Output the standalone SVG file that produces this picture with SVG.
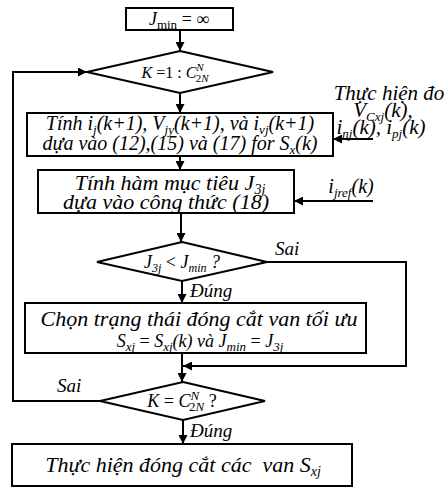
<svg xmlns="http://www.w3.org/2000/svg" width="448" height="488" viewBox="0 0 448 488">
<defs>
<marker id="ah" viewBox="0 0 10 10" refX="10" refY="5" markerWidth="9" markerHeight="9" markerUnits="userSpaceOnUse" orient="auto">
<path d="M0,0 L10,5 L0,10 z" fill="#000"/>
</marker>
<style>
.box{fill:#fff;stroke:#000;stroke-width:2}
.ar{fill:none;stroke:#000;stroke-width:2;marker-end:url(#ah)}
text{font-family:"Liberation Serif","Times New Roman","DejaVu Serif",serif;font-style:italic;fill:#000}
.c{text-anchor:middle}
.up{font-style:normal}
</style>
</defs>
<rect width="448" height="488" fill="#fff"/>
<g id="connectors">
<line class="ar" x1="180" y1="30" x2="180" y2="51"/>
<line class="ar" x1="180" y1="93" x2="180" y2="113"/>
<line class="ar" x1="180" y1="156" x2="180" y2="170"/>
<line class="ar" x1="181" y1="213" x2="181" y2="242"/>
<line class="ar" x1="182" y1="281" x2="182" y2="303"/>
<line class="ar" x1="182" y1="353" x2="182" y2="382"/>
<line class="ar" x1="183" y1="420" x2="183" y2="444"/>
<polyline class="ar" points="100,401 13,401 13,72 87,72"/>
<polyline class="ar" points="267,262 406,262 406,366 183,366"/>
<line class="ar" x1="373" y1="139" x2="333" y2="139"/>
<line class="ar" x1="373" y1="201" x2="294" y2="201"/>
<text x="275" y="255" font-size="19">Sai</text>
<text x="190" y="297" font-size="19">Đúng</text>
<text x="57" y="392" font-size="19">Sai</text>
<text x="190" y="437" font-size="19">Đúng</text>
</g>
<g id="start">
<rect class="box" x="126" y="8" width="107" height="22"/>
<text class="c" x="179" y="25" font-size="18">J<tspan class="up" font-size="13" baseline-shift="-4">min</tspan><tspan class="up"> = ∞</tspan></text>
</g>
<g id="loop">
<polygon class="box" points="180,51 273,72 180,93 87,72"/>
<text class="c" x="175" y="78" font-size="16"><tspan>K</tspan><tspan class="up"> =1 : </tspan><tspan>C</tspan><tspan font-size="11" baseline-shift="7">N</tspan><tspan class="up" font-size="11" dx="-8" baseline-shift="-4">2</tspan><tspan font-size="11" baseline-shift="-4">N</tspan></text>
</g>
<g id="calc">
<rect class="box" x="27" y="113" width="306" height="43"/>
<text class="c" x="180" y="130" font-size="20">Tính i<tspan font-size="13" baseline-shift="-4">j</tspan>(k+1), V<tspan font-size="13" baseline-shift="-4">jy</tspan>(k+1), và i<tspan font-size="13" baseline-shift="-4">vj</tspan>(k+1)</text>
<text class="c" x="180" y="150" font-size="20">dựa vào (12),(15) và (17) for S<tspan font-size="13" baseline-shift="-4">x</tspan>(k)</text>
</g>
<g id="cost">
<rect class="box" x="38" y="170" width="256" height="43"/>
<text class="c" x="170" y="190" font-size="22">Tính hàm mục tiêu J<tspan font-size="14" baseline-shift="-4">3j</tspan></text>
<text class="c" x="166" y="209" font-size="22">dựa vào công thức (18)</text>
</g>
<g id="cmp">
<polygon class="box" points="182,242 267,262 182,281 97,262"/>
<text class="c" x="182" y="268" font-size="18">J<tspan font-size="12" baseline-shift="-4">3j</tspan><tspan class="up"> &lt; </tspan>J<tspan font-size="12" baseline-shift="-4">min</tspan> ?</text>
</g>
<g id="select">
<rect class="box" x="25" y="303" width="341" height="50"/>
<text class="c" x="199" y="326" font-size="22">Chọn trạng thái đóng cắt van tối ưu</text>
<text class="c" x="200" y="347" font-size="18">S<tspan font-size="13" baseline-shift="-4">xj</tspan><tspan class="up"> = </tspan>S<tspan font-size="13" baseline-shift="-4">xj</tspan>(k) và J<tspan font-size="13" baseline-shift="-4">min</tspan><tspan class="up"> = </tspan>J<tspan font-size="13" baseline-shift="-4">3j</tspan></text>
</g>
<g id="end">
<polygon class="box" points="183,382 265,401 183,420 100,401"/>
<text class="c" x="182" y="407" font-size="18"><tspan>K</tspan><tspan class="up"> = </tspan><tspan>C</tspan><tspan font-size="13" baseline-shift="7">N</tspan><tspan class="up" font-size="13" dx="-10" baseline-shift="-4">2</tspan><tspan font-size="13" baseline-shift="-4">N</tspan><tspan class="up"> ?</tspan></text>
</g>
<g id="apply">
<rect class="box" x="12" y="444" width="340" height="42"/>
<text class="c" x="183" y="472" font-size="22" xml:space="preserve">Thực hiện đóng cắt các  van S<tspan font-size="14" baseline-shift="-4">xj</tspan></text>
</g>
<g id="measure">
<text class="c" x="389" y="100" font-size="21">Thực hiện đo</text>
<text class="c" x="383" y="117" font-size="21">V<tspan font-size="13" baseline-shift="-4">Cxj</tspan>(k),</text>
<text class="c" x="381" y="134" font-size="21">i<tspan font-size="13" baseline-shift="-4">nj</tspan>(k), i<tspan font-size="13" baseline-shift="-4">pj</tspan>(k)</text>
</g>
<g id="ref">
<text class="c" x="351" y="193" font-size="20">i<tspan font-size="13" baseline-shift="-4">jref</tspan>(k)</text>
</g>
</svg>
